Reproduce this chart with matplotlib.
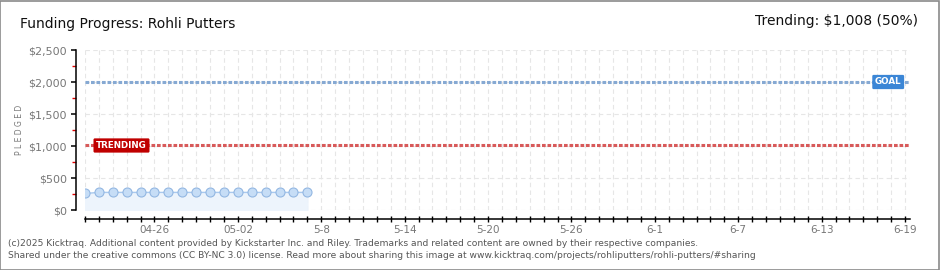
import datetime as dt
import matplotlib
matplotlib.use("Agg")
import matplotlib.pyplot as plt
import matplotlib.dates as mdates
from matplotlib.ticker import MultipleLocator, FuncFormatter

# data
start_date = dt.date(2025, 4, 21)
end_date = dt.date(2025, 6, 19)
pledged = [258, 275, 275, 275, 275, 275, 275, 275, 275, 275, 275, 275, 275, 275, 275, 275, 275]
goal = 2000
trending = 1008
trending_pct = 50
tick_dates = ["2025-04-26", "2025-05-02", "2025-05-08", "2025-05-14", "2025-05-20",
              "2025-05-26", "2025-06-01", "2025-06-07", "2025-06-13", "2025-06-19"]
tick_labels = ["04-26", "05-02", "5-8", "5-14", "5-20", "5-26", "6-1", "6-7", "6-13", "6-19"]

days = [start_date + dt.timedelta(days=i) for i in range(len(pledged))]
all_days = [start_date + dt.timedelta(days=i) for i in range((end_date - start_date).days + 1)]

fig = plt.figure(figsize=(9.4, 2.7), dpi=100)
fig.patches.append(plt.Rectangle((0.0005, 0.001), 0.998, 0.997, transform=fig.transFigure,
                                 fill=False, edgecolor="#8a8a8a", linewidth=1.2))
ax = fig.add_axes([85 / 940, 60 / 270, 825 / 940, 160 / 270])

# grid
for d in all_days:
    ax.axvline(mdates.date2num(d), color="#e6e6e6", lw=0.8, ls=(0, (4, 3)), zorder=0)
for v in range(0, 2501, 500):
    ax.axhline(v, color="#e6e6e6", lw=0.8, ls=(0, (4, 3)), zorder=0)

# series
ax.fill_between(days, 0, pledged, color="#edf4fc", zorder=1)
ax.plot(days, pledged, color="#a9c9ee", lw=1, marker="o", ms=6.5,
        markerfacecolor="#c6ddf6", markeredgecolor="#93b7e2", markeredgewidth=0.8, zorder=3)

# goal / trending
ax.axhline(goal, color="#86a9d3", lw=2.2, ls=(0, (1.2, 0.6)), zorder=2)
ax.axhline(trending, color="#d85a5a", lw=2.2, ls=(0, (1.2, 0.6)), zorder=2)

ax.set_xlim(mdates.date2num(start_date), mdates.date2num(end_date) + 0.36)
ax.set_ylim(0, 2500)

ax.text(mdates.date2num(end_date) - 0.25, goal, "GOAL", color="white", fontsize=6.3,
        fontweight="bold", ha="right", va="center", zorder=5,
        bbox=dict(boxstyle="round,pad=0.3,rounding_size=0.15", fc="#3b86d6", ec="none"))
ax.text(mdates.date2num(start_date) + 0.8, trending, "TRENDING", color="white", fontsize=6.3,
        fontweight="bold", ha="left", va="center", zorder=5,
        bbox=dict(boxstyle="round,pad=0.3,rounding_size=0.15", fc="#c00000", ec="none"))

# axes styling
for s in ["top", "right"]:
    ax.spines[s].set_visible(False)
ax.spines["left"].set_position(("outward", 6.5))
ax.spines["bottom"].set_position(("outward", 6.5))
ax.spines["left"].set_linewidth(1.1)
ax.spines["bottom"].set_linewidth(1.1)

ax.yaxis.set_major_locator(MultipleLocator(500))
ax.yaxis.set_minor_locator(MultipleLocator(250))
ax.yaxis.set_major_formatter(FuncFormatter(lambda v, p: f"${v:,.0f}"))
ax.tick_params(axis="y", which="major", length=3.5, width=1.1, color="black",
               labelcolor="#777777", labelsize=8, pad=3)
ax.tick_params(axis="y", which="minor", length=3, width=1, color="#e00000")

ax.set_xticks([mdates.date2num(d) for d in all_days], minor=True)
ax.set_xticks([mdates.date2num(dt.date.fromisoformat(d)) for d in tick_dates])
ax.set_xticklabels(tick_labels)
ax.tick_params(axis="x", which="both", direction="inout", length=4.5, width=1,
               color="black", labelcolor="#777777", labelsize=7.5, pad=2)

fig.text(20 / 940, 1 - 130 / 270, "P L E D G E D", color="#777777", fontsize=5.5,
         rotation=90, ha="center", va="center")

fig.text(20 / 940, 1 - 24 / 270, "Funding Progress: Rohli Putters", fontsize=10,
         color="#111111", va="center", ha="left")
fig.text(918 / 940, 1 - 21 / 270, f"Trending: ${trending:,} ({trending_pct}%)", fontsize=10,
         color="#111111", va="center", ha="right")

fig.text(8 / 940, 1 - 243 / 270,
         "(c)2025 Kicktraq. Additional content provided by Kickstarter Inc. and Riley. "
         "Trademarks and related content are owned by their respective companies.",
         fontsize=6.6, color="#555555", va="center", ha="left")
fig.text(8 / 940, 1 - 256 / 270,
         "Shared under the creative commons (CC BY-NC 3.0) license. Read more about sharing this image at "
         "www.kicktraq.com/projects/rohliputters/rohli-putters/#sharing",
         fontsize=6.6, color="#555555", va="center", ha="left")

fig.savefig("out.png", dpi=100)
